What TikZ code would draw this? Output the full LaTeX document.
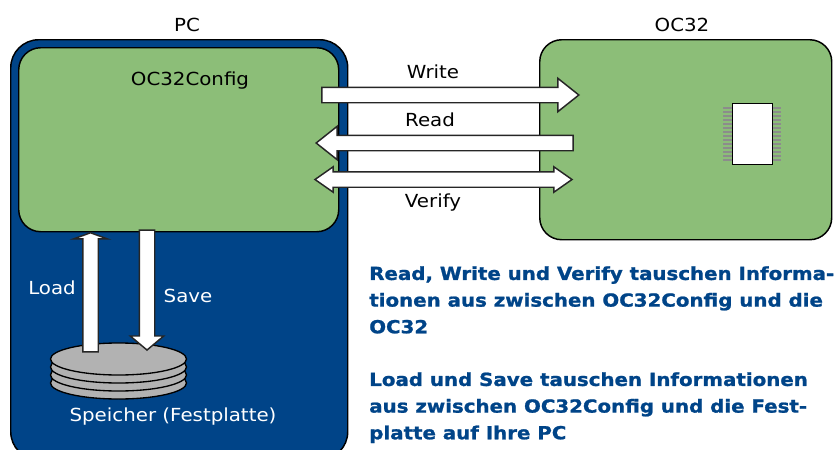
\documentclass[tikz,border=0pt]{standalone}
\usepackage{fontspec}
\setmainfont[FakeStretch=1.1]{DejaVu Sans}
\newfontfamily\notefont[FakeStretch=1.1, FakeBold=1.2]{DejaVu Sans Bold}
\usepackage{xcolor}
\usetikzlibrary{shapes.geometric, shapes.arrows}
\definecolor{pcblue}{RGB}{0,68,136}
\definecolor{boardgreen}{RGB}{140,190,120}
\definecolor{diskgrey}{RGB}{178,178,178}
\def\px{0.75pt}
\tikzset{
  box/.style={draw=black, line width=1.1pt, rounded corners=22*\px, inner sep=0pt},
  blockarrow/.style={single arrow, draw=black!85, fill=white, line width=1.1pt, inner sep=7*\px,
    single arrow head extend=9*\px, single arrow head indent=0pt, minimum width=32*\px},
  label/.style={font=\fontsize{13.5}{16}\selectfont, inner sep=0pt},
  note/.style={font=\fontsize{13.5}{20}\selectfont\notefont, text=pcblue, align=left, anchor=north west, inner sep=0pt},
  disk/.style={ellipse, draw=black, fill=diskgrey, line width=1pt, minimum width=136*\px, minimum height=32*\px, inner sep=0pt},
}
\begin{document}
\begin{tikzpicture}[x=0.75pt, y=-0.75pt]
  \useasboundingbox (0,0) rectangle (840,450);
  \clip (0,0) rectangle (840,450);

  % boxes
  \node[box, fill=pcblue, rounded corners=28*\px, minimum width=337*\px, minimum height=420*\px, anchor=north west] (pc) at (10,39) {};
  \node[box, fill=boardgreen, minimum width=320*\px, minimum height=184*\px, anchor=north west] (config) at (18,47) {};
  \node[box, fill=boardgreen, minimum width=292*\px, minimum height=200*\px, anchor=north west] (oc) at (539,39) {};
  \node[label, above=0pt] (pclabel) at (187,32) {PC};
  \node[label, above=0pt] (oclabel) at (682,32) {OC32};
  \node[label] (configlabel) at (190,81) {OC32Config};

  % chip
  \foreach \i in {0,...,13} {
    \draw[black!45, line width=1.4pt] (723,108+4*\i) -- (781,108+4*\i);
  }
  \node[draw=black, fill=white, line width=1.1pt, minimum width=40*\px, minimum height=61*\px, inner sep=0pt, anchor=north west] (chip) at (732,103) {};

  % arrows between the boxes
  \node[blockarrow, minimum height=257*\px, single arrow tip angle=77, anchor=tip] (write) at (580,95) {};
  \node[blockarrow, minimum height=257*\px, single arrow tip angle=77, shape border rotate=180, anchor=tip] (read) at (315,143) {};
  \node[double arrow, draw=black!85, fill=white, line width=1.1pt, inner sep=7*\px, double arrow head extend=5*\px,
    double arrow head indent=0pt, minimum width=25*\px, minimum height=257*\px, double arrow tip angle=70, anchor=center] (verify) at (443.5,179.5) {};
  \node[label] (writelabel) at (433,72) {Write};
  \node[label] (readlabel) at (430,120) {Read};
  \node[label] (verifylabel) at (433,203) {Verify};

  % disks
  \foreach \y in {383,375,367,359} {
    \node[disk] (disk\y) at (118.5,\y) {};
  }

  % load and save
  \node[blockarrow, minimum height=119*\px, minimum width=33*\px, single arrow tip angle=140, shape border rotate=90, anchor=tip] (load) at (90.5,232) {};
  \node[blockarrow, minimum height=120*\px, minimum width=33*\px, single arrow tip angle=100, shape border rotate=270, anchor=tip] (save) at (147,351) {};
  \node[label, text=white] (loadlabel) at (52,288) {Load};
  \node[label, text=white] (savelabel) at (188,296) {Save};
  \node[label, text=white] (speicher) at (173,417) {Speicher (Festplatte)};

  % notes
  \node[note] (note1) at (369,266) {Read, Write und Verify tauschen Informa-\\tionen aus zwischen OC32Config und die\\OC32};
  \node[note] (note2) at (369,372) {Load und Save tauschen Informationen\\aus zwischen OC32Config und die Fest-\\platte auf Ihre PC};
\end{tikzpicture}
\end{document}
